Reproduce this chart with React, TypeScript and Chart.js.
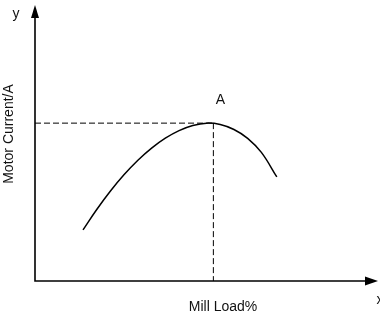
import { useEffect, useRef } from "react";
import { Chart, registerables } from "chart.js";

Chart.register(...registerables);

// Curve (Mill Load % vs Motor Current, arbitrary 0-100 units)
const curveX = [14, 18, 22, 26, 30, 34, 38, 42, 46, 50, 54, 58, 62, 66, 70.5];
const curveY = [18.5, 25.9, 32.6, 38.55, 43.75, 48.15, 51.75, 54.5, 56.35, 57.2, 56.7, 54.9, 51.7, 46.6, 37.7];
const peakX = [52];
const peakY = [57.2];
const axisMax = [100];
const xTitle = "Mill Load%";
const yTitle = "Motor Current/A";
const xAxisLabel = "x";
const yAxisLabel = "y";
const peakLabel = "A";

const FONT = '"Liberation Sans", Arial, sans-serif';

export default function App() {
  const ref = useRef<HTMLCanvasElement | null>(null);

  useEffect(() => {
    const canvas = ref.current;
    if (!canvas) return;

    const axesPlugin = {
      id: "axesArrows",
      afterDatasetsDraw(chart: any) {
        const { ctx, scales } = chart;
        const xs = scales.x;
        const ys = scales.y;
        const x0 = xs.getPixelForValue(0);
        const y0 = ys.getPixelForValue(0);
        const xEnd = xs.getPixelForValue(axisMax[0]);
        const yEnd = ys.getPixelForValue(axisMax[0]);
        ctx.save();
        ctx.strokeStyle = "#000";
        ctx.fillStyle = "#000";
        ctx.lineWidth = 1.6;
        ctx.beginPath();
        ctx.moveTo(x0, yEnd + 12);
        ctx.lineTo(x0, y0);
        ctx.lineTo(xEnd - 12, y0);
        ctx.stroke();
        // y arrow
        ctx.beginPath();
        ctx.moveTo(x0, yEnd);
        ctx.lineTo(x0 - 4, yEnd + 13);
        ctx.lineTo(x0 + 4, yEnd + 13);
        ctx.closePath();
        ctx.fill();
        // x arrow
        ctx.beginPath();
        ctx.moveTo(xEnd, y0);
        ctx.lineTo(xEnd - 13, y0 - 4.5);
        ctx.lineTo(xEnd - 13, y0 + 4.5);
        ctx.closePath();
        ctx.fill();

        ctx.fillStyle = "#111";
        ctx.textAlign = "center";
        ctx.textBaseline = "middle";
        ctx.font = `14px ${FONT}`;
        ctx.fillText(yAxisLabel, x0 - 19, yEnd + 9);
        ctx.fillText(xAxisLabel, xEnd + 2, y0 + 19);
        const px = xs.getPixelForValue(peakX[0]);
        const py = ys.getPixelForValue(peakY[0]);
        ctx.fillText(peakLabel, px + 7, py - 23);
        ctx.fillText(xTitle, 223, 307);
        ctx.translate(9, 134);
        ctx.rotate(-Math.PI / 2);
        ctx.fillText(yTitle, 0, 0);
        ctx.restore();
      },
    };

    const chart = new Chart(canvas, {
      type: "scatter",
      data: {
        datasets: [
          {
            data: curveX.map((x, i) => ({ x, y: curveY[i] })),
            showLine: true,
            borderColor: "#000",
            borderWidth: 1.5,
            pointRadius: 0,
            tension: 0.4,
          },
          {
            data: [
              { x: 0, y: peakY[0] },
              { x: peakX[0], y: peakY[0] },
            ],
            showLine: true,
            borderColor: "#000",
            borderWidth: 1,
            borderDash: [6, 3],
            pointRadius: 0,
          },
          {
            data: [
              { x: peakX[0], y: peakY[0] },
              { x: peakX[0], y: 0 },
            ],
            showLine: true,
            borderColor: "#000",
            borderWidth: 1,
            borderDash: [6, 3],
            pointRadius: 0,
          },
        ],
      },
      options: {
        animation: false,
        responsive: false,
        devicePixelRatio: 1,
        layout: { padding: { left: 35, top: 5, right: 2, bottom: 43 } },
        plugins: { legend: { display: false }, tooltip: { enabled: false } },
        scales: {
          x: { type: "linear", min: 0, max: axisMax[0], display: false },
          y: { type: "linear", min: 0, max: axisMax[0], display: false },
        },
      },
      plugins: [axesPlugin],
    } as any);

    return () => chart.destroy();
  }, []);

  return (
    <div style={{ position: "absolute", left: 0, top: 0, width: 380, height: 324, background: "#fff" }}>
      <canvas ref={ref} width={380} height={324} />
    </div>
  );
}
